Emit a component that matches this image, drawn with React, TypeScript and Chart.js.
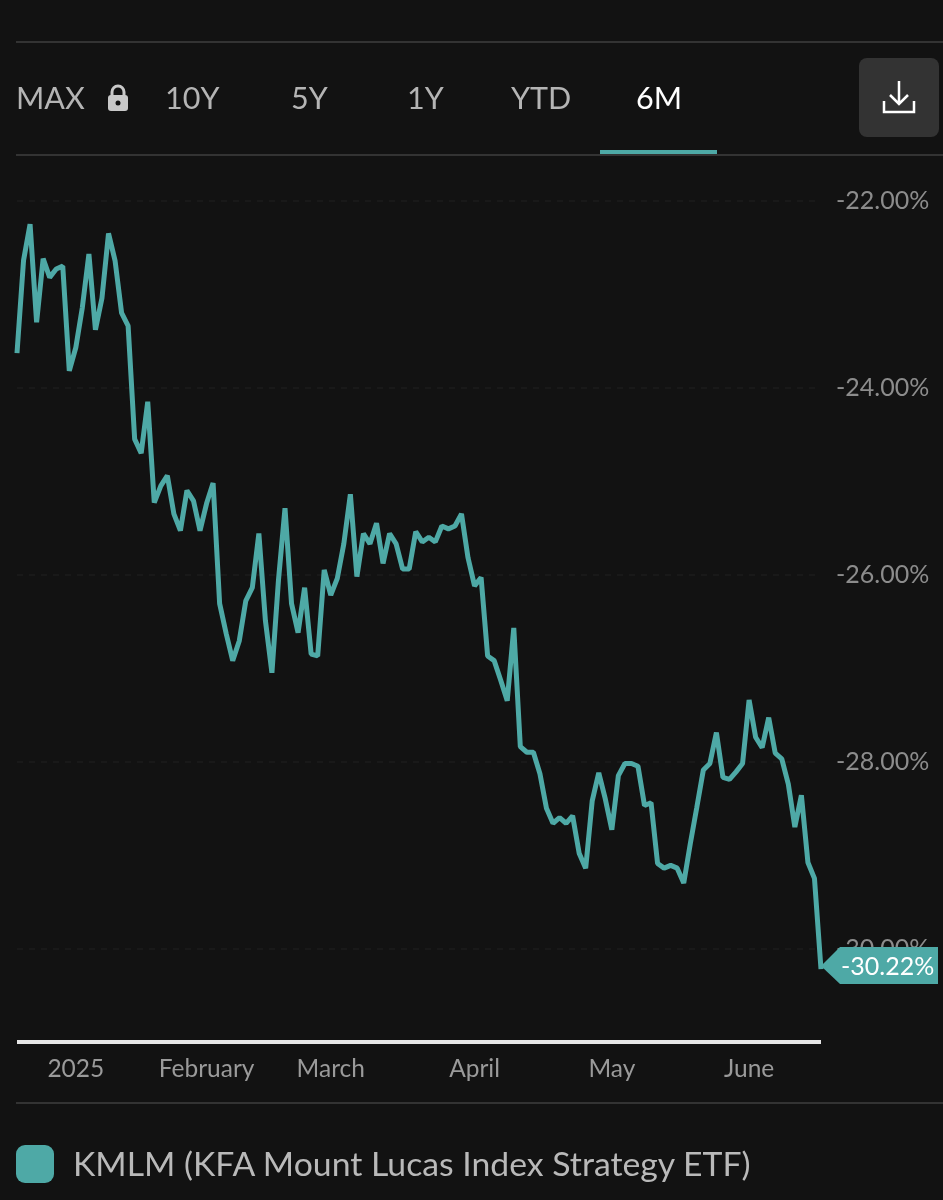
import React, { useEffect, useRef } from "react";
import { Chart, registerables } from "chart.js";

Chart.register(...registerables);

const seriesName = "KMLM (KFA Mount Lucas Index Strategy ETF)";
const periods = ["MAX", "10Y", "5Y", "1Y", "YTD", "6M"];
const yTicks = [-22, -24, -26, -28, -30];
const monthLabels = ["2025", "February", "March", "April", "May", "June"];
const monthIndexes = [9, 29, 48, 70, 91, 112];
const returns = [
  -23.63, -22.64, -22.25, -23.3, -22.62, -22.82, -22.73, -22.7, -23.82, -23.57,
  -23.14, -22.57, -23.38, -23.04, -22.35, -22.64, -23.2, -23.34, -24.55, -24.7,
  -24.15, -25.23, -25.05, -24.94, -25.35, -25.53, -25.1, -25.21, -25.53, -25.24,
  -25.02, -26.31, -26.63, -26.92, -26.71, -26.28, -26.14, -25.56, -26.49, -27.05,
  -26.06, -25.29, -26.31, -26.62, -26.14, -26.85, -26.87, -25.95, -26.22, -26.04,
  -25.67, -25.14, -26.02, -25.56, -25.67, -25.45, -25.88, -25.56, -25.67, -25.94,
  -25.94, -25.54, -25.65, -25.6, -25.65, -25.48, -25.51, -25.48, -25.35, -25.82,
  -26.12, -26.03, -26.87, -26.92, -27.13, -27.35, -26.57, -27.84, -27.9, -27.9,
  -28.13, -28.5, -28.66, -28.6, -28.66, -28.58, -28.98, -29.14, -28.42, -28.12,
  -28.4, -28.73, -28.15, -28.02, -28.02, -28.05, -28.47, -28.44, -29.09, -29.14,
  -29.11, -29.14, -29.3, -28.88, -28.49, -28.09, -28.02, -27.69, -28.17, -28.19,
  -28.11, -28.02, -27.34, -27.74, -27.85, -27.53, -27.91, -27.97, -28.24, -28.7,
  -28.36, -29.08, -29.25, -30.22,
];

const labels = returns.map((_, i) => {
  const m = monthIndexes.indexOf(i);
  return m >= 0 ? monthLabels[m] : "";
});

const TEAL = "#4ea9a6";
const BG = "#121212";
const FONT = "Lato, 'Noto Sans', sans-serif";

const baseline = {
  id: "baseline",
  beforeDatasetsDraw(chart: any) {
    const { ctx, chartArea } = chart;
    ctx.save();
    ctx.strokeStyle = "#e6e6e6";
    ctx.lineWidth = 4;
    ctx.beginPath();
    ctx.moveTo(chartArea.left, chartArea.bottom);
    ctx.lineTo(chartArea.right, chartArea.bottom);
    ctx.stroke();
    ctx.restore();
  },
};

const lastValueTag = {
  id: "lastValueTag",
  afterDraw(chart: any) {
    const { ctx, scales } = chart;
    const last = returns.length - 1;
    const x = scales.x.getPixelForValue(last);
    const y = scales.y.getPixelForValue(returns[last]);
    const cy = y - 3;
    ctx.save();
    ctx.fillStyle = TEAL;
    ctx.beginPath();
    ctx.moveTo(x, cy);
    ctx.lineTo(x + 19, cy - 19);
    ctx.lineTo(x + 117, cy - 19);
    ctx.lineTo(x + 117, cy + 18);
    ctx.lineTo(x + 19, cy + 18);
    ctx.closePath();
    ctx.fill();
    ctx.fillStyle = "#ffffff";
    ctx.font = `25px ${FONT}`;
    ctx.textAlign = "left";
    ctx.textBaseline = "middle";
    ctx.fillText(`${returns[last].toFixed(2)}%`, x + 20, cy + 1);
    ctx.restore();
  },
};

const tabX = [16, 165, 291, 407, 511, 636];

export default function App() {
  const ref = useRef<HTMLCanvasElement | null>(null);

  useEffect(() => {
    if (!ref.current) return;
    const chart = new Chart(ref.current, {
      type: "line",
      data: {
        labels,
        datasets: [
          {
            label: seriesName,
            data: returns,
            borderColor: TEAL,
            borderWidth: 5,
            pointRadius: 0,
            tension: 0,
            borderJoinStyle: "bevel",
            clip: false,
          } as any,
        ],
      },
      options: {
        animation: false,
        responsive: false,
        devicePixelRatio: 1,
        layout: { padding: { left: 17, top: 154, right: 0, bottom: 0 } },
        plugins: { legend: { display: false }, tooltip: { enabled: false } },
        scales: {
          x: {
            type: "category",
            afterFit: (s: any) => {
              s.height = 158;
            },
            grid: { display: false, drawTicks: false },
            border: { display: false },
            ticks: {
              autoSkip: false,
              maxRotation: 0,
              minRotation: 0,
              padding: 12,
              color: "#9a9a9a",
              font: { family: FONT, size: 24.5 },
            },
          },
          y: {
            position: "right",
            min: -31,
            max: -21.5,
            afterFit: (s: any) => {
              s.width = 122;
            },
            afterBuildTicks: (s: any) => {
              s.ticks = yTicks.map((value) => ({ value }));
            },
            grid: { color: "#191919", drawTicks: false, lineWidth: 2 },
            border: { display: false, dash: [6, 6] },
            ticks: {
              padding: 15,
              color: "#8c8c8c",
              font: { family: FONT, size: 25 },
              callback: (v: any) => `${Number(v).toFixed(2)}%`,
            },
          },
        },
      },
      plugins: [baseline, lastValueTag],
    });
    return () => chart.destroy();
  }, []);

  const line = (top: number): React.CSSProperties => ({
    position: "absolute",
    left: 16,
    top,
    width: 927,
    height: 2,
    background: "#333333",
  });

  return (
    <div
      style={{
        position: "fixed",
        left: 0,
        top: 0,
        width: 943,
        height: 1200,
        background: BG,
        overflow: "hidden",
        fontFamily: FONT,
      }}
    >
      <canvas ref={ref} width={943} height={1200} style={{ position: "absolute", left: 0, top: 0, display: "block" }} />
      <div style={line(41)} />
      <div style={line(154)} />
      <div style={line(1102)} />
      {periods.map((p, i) => (
        <div
          key={p}
          style={{
            position: "absolute",
            left: tabX[i],
            top: 78,
            fontSize: 30.5,
            lineHeight: "38px",
            color: p === "6M" ? "#ffffff" : "#b4b4b4",
          }}
        >
          {p}
        </div>
      ))}
      <svg style={{ position: "absolute", left: 106, top: 84 }} width="24" height="28" viewBox="0 0 24 28">
        <path d="M6 12V8a6 6 0 0 1 12 0v4" fill="none" stroke="#c8c8c8" strokeWidth="3" />
        <rect x="2" y="11" width="20" height="16" rx="3" fill="#c8c8c8" />
        <circle cx="12" cy="19" r="2.5" fill={BG} />
      </svg>
      <div style={{ position: "absolute", left: 600, top: 150, width: 117, height: 4, background: TEAL }} />
      <div style={{ position: "absolute", left: 859, top: 58, width: 80, height: 79, borderRadius: 8, background: "#333333" }} />
      <svg style={{ position: "absolute", left: 879, top: 78 }} width="40" height="40" viewBox="0 0 40 40">
        <path d="M20 3v22M11 17l9 9 9-9M5 23v11h30V23" fill="none" stroke="#ffffff" strokeWidth="2.5" />
      </svg>
      <div style={{ position: "absolute", left: 16, top: 1145, width: 38, height: 38, borderRadius: 9, background: TEAL }} />
      <div style={{ position: "absolute", left: 73, top: 1142, fontSize: 33.75, lineHeight: "42px", color: "#b9b9b9", whiteSpace: "nowrap" }}>
        {seriesName}
      </div>
    </div>
  );
}
